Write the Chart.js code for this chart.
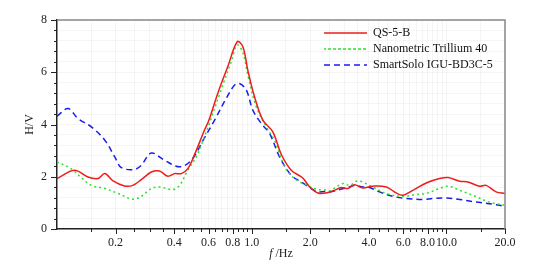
<!DOCTYPE html>
<html>
<head>
<meta charset="utf-8">
<script src="https://cdn.jsdelivr.net/npm/chart.js@4/dist/chart.umd.min.js"></script>
<style>
  body { margin: 0; background: #fff; }
</style>
</head>
<body>
<canvas id="hvChart" width="544" height="268"></canvas>
<script>
// values (f in Hz, H/V ratio)
const qsFreq = [0.1, 0.123, 0.144, 0.162, 0.176, 0.194, 0.222, 0.245, 0.271, 0.305, 0.336, 0.371, 0.402, 0.435, 0.47, 0.509, 0.573, 0.6, 0.67, 0.754, 0.843, 0.901, 0.955, 1.034, 1.141, 1.284, 1.42, 1.596, 1.83, 1.98, 2.19, 2.41, 2.66, 2.88, 3.12, 3.37, 3.72, 4.19, 4.91, 5.52, 5.97, 6.72, 7.88, 9.22, 10.2, 11.7, 12.9, 14.8, 16.0, 18.0, 20]
const qsHV = [1.93, 2.25, 1.99, 1.93, 2.12, 1.84, 1.65, 1.67, 1.89, 2.18, 2.22, 2.02, 2.12, 2.12, 2.31, 2.85, 3.8, 4.12, 5.2, 6.22, 7.17, 6.98, 6.08, 5.06, 4.17, 3.72, 2.85, 2.25, 1.95, 1.62, 1.38, 1.38, 1.48, 1.59, 1.55, 1.69, 1.57, 1.64, 1.61, 1.38, 1.29, 1.48, 1.76, 1.93, 1.97, 1.83, 1.80, 1.64, 1.67, 1.42, 1.36]

const trilliumFreq = [0.1, 0.118, 0.133, 0.15, 0.176, 0.206, 0.245, 0.271, 0.305, 0.336, 0.394, 0.426, 0.47, 0.519, 0.573, 0.6, 0.698, 0.785, 0.843, 0.901, 0.955, 1.055, 1.188, 1.31, 1.475, 1.66, 1.93, 2.145, 2.366, 2.51, 2.94, 3.18, 3.51, 4.03, 4.91, 5.97, 7.0, 7.88, 9.22, 10.2, 11.7, 13.7, 16.6, 20]
const trilliumHV = [2.57, 2.31, 1.97, 1.67, 1.55, 1.36, 1.14, 1.25, 1.55, 1.61, 1.51, 1.67, 2.25, 2.76, 3.55, 3.95, 5.35, 6.4, 7.05, 6.75, 5.9, 4.68, 3.91, 3.40, 2.4, 1.93, 1.67, 1.52, 1.5, 1.46, 1.74, 1.67, 1.84, 1.67, 1.36, 1.25, 1.32, 1.36, 1.55, 1.64, 1.48, 1.29, 1.03, 0.91]

const smartFreq = [0.1, 0.114, 0.128, 0.15, 0.176, 0.198, 0.214, 0.25, 0.271, 0.305, 0.357, 0.426, 0.489, 0.573, 0.645, 0.74, 0.817, 0.866, 0.938, 1.014, 1.119, 1.235, 1.39, 1.596, 1.797, 2.022, 2.186, 2.366, 2.51, 2.825, 3.117, 3.374, 3.722, 4.03, 4.535, 5.31, 6.22, 7.56, 8.51, 9.97, 11.7, 14.2, 17.3, 20]
const smartHV = [4.32, 4.61, 4.23, 3.91, 3.40, 2.76, 2.35, 2.28, 2.44, 2.91, 2.63, 2.38, 2.63, 3.5, 4.17, 5.00, 5.51, 5.57, 5.32, 4.55, 4.04, 3.66, 2.76, 2.06, 1.80, 1.55, 1.42, 1.44, 1.42, 1.51, 1.59, 1.67, 1.61, 1.59, 1.42, 1.25, 1.17, 1.13, 1.17, 1.19, 1.13, 1.03, 0.95, 0.87]

const xTickLabels = [0.2, 0.4, 0.6, 0.8, 1.0, 2.0, 4.0, 6.0, 8.0, 10.0, 20.0]
const yTickLabels = [0, 2, 4, 6, 8]

const serif = '"Liberation Serif", "Times New Roman", serif'

// minor tick positions: 0.05 steps below 1, 0.5 steps below 10, 5 steps up to 20
var xTicks = []
for (let i = 3; i <= 20; i++) xTicks.push(Math.round(i * 5) / 100)
for (let i = 3; i <= 20; i++) xTicks.push(i * 0.5)
xTicks.push(15, 20)
var yTicks = []
for (let i = 0; i <= 20; i++) yTicks.push(Math.round(i * 4) / 10)

function pts(fs, vs) {
  return fs.map((f, i) => ({ x: f, y: vs[i] }))
}

// short minor / longer major tick marks, spines on top and right, x title
const axisExtras = {
  id: 'axisExtras',
  beforeInit(chart) {
    const fit = chart.legend.fit
    chart.legend.fit = function () { fit.call(this); this.width = 0 }
  },
  afterLayout(chart) {
    const lg = chart.legend
    lg.left = 320
    lg.top = 23
    lg.bottom = 140
    lg.right = 500
  },
  afterDraw(chart) {
    const { ctx, chartArea, scales } = chart
    ctx.save()
    ctx.strokeStyle = '#222'
    ctx.lineWidth = 1
    scales.x.ticks.forEach(t => {
      const px = Math.round(scales.x.getPixelForValue(t.value)) + 0.5
      const len = xTickLabels.includes(t.value) ? 5 : 3
      ctx.beginPath()
      ctx.moveTo(px, chartArea.bottom)
      ctx.lineTo(px, chartArea.bottom + len)
      ctx.stroke()
    })
    scales.y.ticks.forEach(t => {
      const py = Math.round(scales.y.getPixelForValue(t.value)) + 0.5
      const len = yTickLabels.includes(t.value) ? 6 : 3
      ctx.beginPath()
      ctx.moveTo(chartArea.left, py)
      ctx.lineTo(chartArea.left - len, py)
      ctx.stroke()
    })
    ctx.strokeStyle = '#888'
    ctx.lineWidth = 1.5
    ctx.beginPath()
    ctx.moveTo(chartArea.left, chartArea.top)
    ctx.lineTo(chartArea.right, chartArea.top)
    ctx.lineTo(chartArea.right, chartArea.bottom)
    ctx.stroke()

    // "f /Hz" with italic f
    ctx.fillStyle = '#222'
    ctx.textBaseline = 'alphabetic'
    ctx.font = 'italic 12px ' + serif
    const w1 = ctx.measureText('f ').width
    ctx.font = '12px ' + serif
    const w2 = ctx.measureText('/Hz').width
    const x0 = (chartArea.left + chartArea.right) / 2 - (w1 + w2) / 2
    ctx.font = 'italic 12px ' + serif
    ctx.fillText('f ', x0, 257)
    ctx.font = '12px ' + serif
    ctx.fillText('/Hz', x0 + w1, 257)
    ctx.restore()
  }
}

const ctx = document.getElementById('hvChart').getContext('2d')
const hvChart = new Chart(ctx, {
  type: 'line',
  data: {
    datasets: [
      {
        label: 'QS-5-B',
        data: pts(qsFreq, qsHV),
        borderColor: '#ee1c1c',
        backgroundColor: 'transparent',
        borderWidth: 1.5
      },
      {
        label: 'Nanometric Trillium 40',
        data: pts(trilliumFreq, trilliumHV),
        borderColor: '#2ee02e',
        backgroundColor: 'transparent',
        borderWidth: 1.5,
        borderDash: [2, 3]
      },
      {
        label: 'SmartSolo IGU-BD3C-5',
        data: pts(smartFreq, smartHV),
        borderColor: '#1c1cee',
        backgroundColor: 'transparent',
        borderWidth: 1.5,
        borderDash: [6, 4]
      }
    ]
  },
  options: {
    responsive: false,
    animation: false,
    layout: { padding: { top: 20, right: 39, bottom: 0, left: 0 } },
    elements: { point: { radius: 0 }, line: { tension: 0.35 } },
    scales: {
      x: {
        type: 'logarithmic',
        min: 0.1,
        max: 20,
        afterBuildTicks: s => { s.ticks = xTicks.map(v => ({ value: v })) },
        afterFit: s => { s.height = 39 },
        ticks: {
          autoSkip: false,
          maxRotation: 0,
          padding: 7,
          color: '#222',
          font: { family: serif, size: 12 },
          callback: v => xTickLabels.includes(v) ? v.toFixed(1) : ''
        },
        grid: { color: 'rgba(0,0,0,0.04)', drawTicks: false },
        border: { color: '#222', width: 1.5 }
      },
      y: {
        min: 0,
        max: 8,
        afterBuildTicks: s => { s.ticks = yTicks.map(v => ({ value: v })) },
        afterFit: s => { s.width = 57 },
        ticks: {
          autoSkip: false,
          padding: 10,
          color: '#222',
          font: { family: serif, size: 12 },
          callback: v => yTickLabels.includes(v) ? String(v) : ''
        },
        grid: { color: 'rgba(0,0,0,0.04)', drawTicks: false },
        border: { color: '#222', width: 1.5 },
        title: {
          display: true,
          text: 'H/V',
          color: '#222',
          padding: { top: 23, bottom: 0 },
          font: { family: serif, size: 12 }
        }
      }
    },
    plugins: {
      legend: {
        position: 'right',
        align: 'start',
        labels: {
          boxWidth: 43,
          boxHeight: 0,
          padding: 4,
          color: '#111',
          font: { family: serif, size: 12 }
        }
      },
      tooltip: { enabled: false }
    }
  },
  plugins: [axisExtras]
})
</script>
</body>
</html>
